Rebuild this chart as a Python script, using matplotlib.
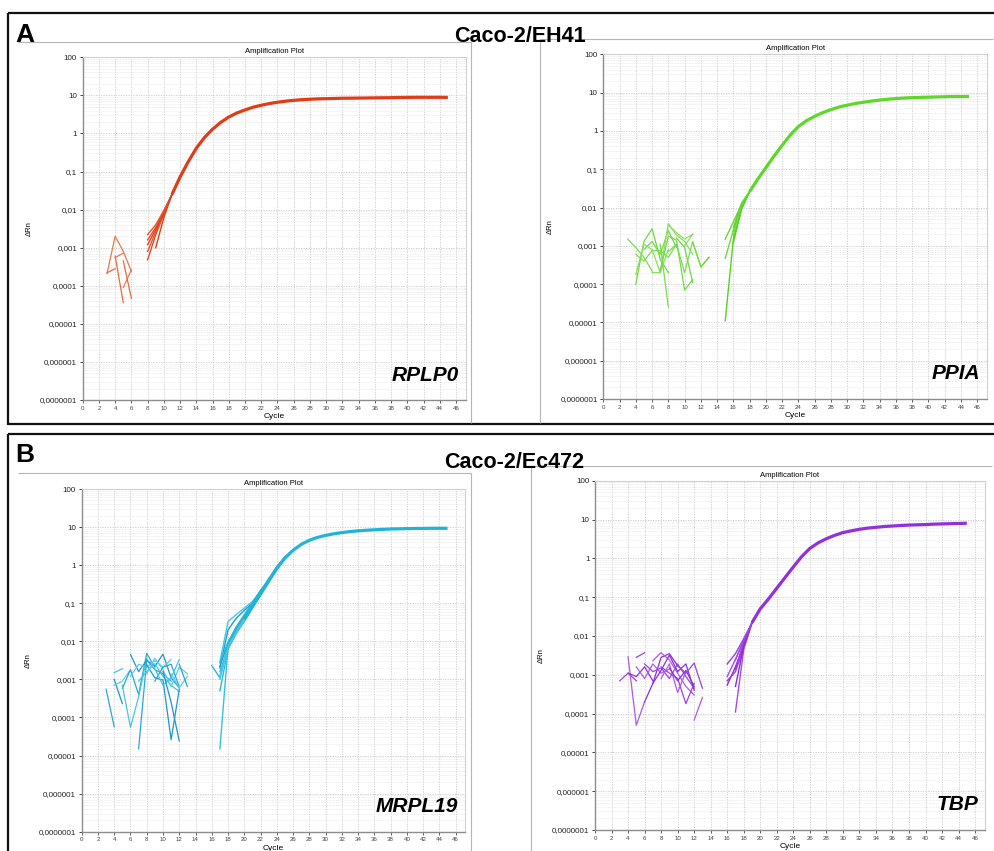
import numpy as np
import matplotlib
matplotlib.use("Agg")
import matplotlib.pyplot as plt
from matplotlib.lines import Line2D
from matplotlib.ticker import FixedLocator, LogLocator, NullFormatter, NullLocator

plt.rcParams["font.family"] = ["Liberation Sans", "DejaVu Sans"]

W, H = 995, 851

Y_TICKS = [1e-7, 1e-6, 1e-5, 1e-4, 1e-3, 1e-2, 1e-1, 1, 10, 100]
Y_TICK_LABELS = ["0,0000001", "0,000001", "0,00001", "0,0001", "0,001",
                 "0,01", "0,1", "1", "10", "100"]
X_TICKS = list(range(0, 47, 2))

# ---- RPLP0 (Caco-2/EH41) ----
rplp0_cycle0 = 11
rplp0_curve = [0.025, 0.072, 0.18, 0.41, 0.78, 1.29, 1.95, 2.7, 3.45, 4.15, 4.9,
               5.5, 6.1, 6.6, 7.05, 7.4, 7.7, 7.9, 8.1, 8.2, 8.3, 8.4, 8.45, 8.5,
               8.55, 8.6, 8.65, 8.7, 8.8, 8.85, 8.9, 8.9, 8.9, 8.9, 8.85]
rplp0_rep_start = [8, 8, 8, 8, 8, 9]
rplp0_rep_early = [
    [0.00048, 0.0022, 0.0075],
    [0.0008, 0.0026, 0.0080],
    [0.0012, 0.0030, 0.0085],
    [0.0016, 0.0034, 0.0090],
    [0.0022, 0.0040, 0.0095],
    [0.0010, 0.0062],
]
rplp0_noise_start = [3, 3, 4, 4, 5, 5]
rplp0_noise = [
    [0.00021, 0.0020, 0.0008, 0.00024],
    [0.00022, 0.00028],
    [0.00055, 0.00072],
    [0.0006, 3.6e-5],
    [9e-5, 0.00026],
    [0.00045, 4.7e-5],
]

# ---- PPIA (Caco-2/EH41) ----
ppia_cycle0 = 18
ppia_curve = [0.026, 0.055, 0.11, 0.22, 0.42, 0.78, 1.3, 1.85, 2.4, 3.0, 3.6,
              4.2, 4.7, 5.2, 5.6, 6.0, 6.4, 6.7, 7.0, 7.2, 7.4, 7.5, 7.6, 7.7,
              7.8, 7.9, 7.9, 7.9]
ppia_rep_start = [15, 15, 15, 16, 16, 16, 16]
ppia_rep_early = [
    [0.0015, 0.0042, 0.012],
    [0.00047, 0.0026, 0.011],
    [1.1e-5, 0.0015, 0.009],
    [0.0024, 0.012],
    [0.0019, 0.011],
    [0.0012, 0.009],
    [0.0030, 0.013],
]
ppia_noise_start = [3, 4, 4, 4, 5, 6, 7, 7, 8, 8, 9, 10, 11, 12]
ppia_noise = [
    [0.0015, 0.0009, 0.0005, 0.00022],
    [0.0001, 0.0013, 0.0028, 0.00045, 0.0002],
    [0.00018, 0.0011, 0.0008, 0.0002, 0.0008],
    [0.0006, 0.0004, 0.00075, 0.00075, 0.0005, 0.0011],
    [0.0008, 0.0013, 0.0006, 0.0025, 0.0009],
    [0.0002, 0.0002, 0.0038, 0.0019, 0.0013, 0.0006],
    [0.0011, 2.5e-5],
    [0.00022, 0.0018, 0.0014, 7e-5, 0.00013],
    [0.0035, 0.0022, 0.0015, 0.002],
    [0.0007, 0.0011, 0.0002, 0.0013, 0.00028, 0.0005],
    [0.0016, 0.0009, 0.00011],
    [0.001, 0.002],
    [0.0012, 0.0003],
    [0.00028, 0.0005],
]

# ---- MRPL19 (Caco-2/Ec472) ----
mrpl19_cycle0 = 20
mrpl19_curve = [0.038, 0.085, 0.18, 0.39, 0.83, 1.55, 2.45, 3.5, 4.5, 5.35,
                6.05, 6.65, 7.15, 7.6, 7.95, 8.25, 8.5, 8.7, 8.9, 9.0, 9.1,
                9.2, 9.2, 9.3, 9.3, 9.3]
mrpl19_rep_start = [16, 17, 17, 17, 17, 17, 17, 17, 17, 17]
mrpl19_rep_early = [
    [0.0023, 0.0011, 0.0075, 0.019],
    [0.0029, 0.033, 0.05, 0.075, 0.11, 0.2, 0.4, 0.84],
    [0.0020, 0.020, 0.040, 0.065, 0.10, 0.19],
    [1.5e-5, 0.0068, 0.017],
    [0.0005, 0.0062, 0.016, 0.034, 0.075, 0.16, 0.35, 0.76],
    [0.0012, 0.0085, 0.02],
    [0.0022, 0.009, 0.022, 0.046, 0.1, 0.21, 0.44, 0.9, 1.65],
    [0.0016, 0.0068, 0.016, 0.033, 0.074, 0.16, 0.35, 0.75, 1.45],
    [0.0027, 0.0095, 0.024, 0.05, 0.105, 0.22],
    [0.0010, 0.0072, 0.017, 0.036, 0.08, 0.17, 0.37, 0.8],
]
mrpl19_noise_start = [3, 4, 4, 4, 5, 5, 6, 6, 7, 7, 8, 8, 9, 9, 10, 11, 12]
mrpl19_noise = [
    [0.00055, 5.7e-5],
    [0.0015, 0.0019],
    [0.001, 0.00023],
    [0.0007, 0.0009, 0.0018],
    [0.00058, 0.0018, 0.0004, 0.0048, 0.0021],
    [0.0007, 5.5e-5, 0.00035, 0.0035],
    [0.0045, 0.0016, 0.0032, 0.0022, 0.0046, 0.0011, 0.0006],
    [0.0012, 0.0025, 0.0021, 0.0031, 0.0021, 0.0033],
    [1.5e-5, 0.0033, 0.0018, 0.0014, 0.0009],
    [0.0009, 0.0016, 0.0026, 0.0012, 0.0007, 0.00048],
    [0.0024, 0.0011, 0.00096, 2.6e-5, 0.00055],
    [0.0014, 0.0036, 0.0018, 0.00065, 0.0021, 0.0014],
    [0.0009, 0.0021, 0.0025, 0.00064],
    [0.0019, 0.0007, 0.0011, 0.0033],
    [0.0016, 0.00025, 2.4e-5],
    [0.0014, 0.0006, 0.0012],
    [0.0025, 0.00065],
]

# ---- TBP (Caco-2/Ec472) ----
tbp_cycle0 = 19
tbp_curve = [0.022, 0.05, 0.09, 0.17, 0.32, 0.6, 1.1, 1.8, 2.5, 3.2, 3.9, 4.6,
             5.1, 5.6, 6.0, 6.3, 6.6, 6.8, 7.0, 7.2, 7.3, 7.4, 7.6, 7.7, 7.8,
             7.9, 8.0]
tbp_rep_start = [16, 16, 16, 16, 17, 17, 17, 17]
tbp_rep_early = [
    [0.0019, 0.0035, 0.0085],
    [0.0009, 0.0025, 0.0072],
    [0.00054, 0.0016, 0.0058],
    [0.0007, 0.0012, 0.005],
    [0.00011, 0.0045],
    [0.0005, 0.0055],
    [0.0014, 0.0068],
    [0.0024, 0.0080],
]
tbp_noise_start = [3, 4, 4, 5, 5, 6, 6, 7, 7, 8, 8, 9, 10, 12]
tbp_noise = [
    [0.0007, 0.0011, 0.0007],
    [0.0029, 5e-5, 0.0002],
    [0.0011, 0.0009, 0.0016, 0.0007],
    [0.0028, 0.0037],
    [0.0016, 0.0008, 0.0019, 0.0011, 0.0014],
    [0.0002, 0.0006, 0.0028, 0.0035, 0.0017],
    [0.0019, 0.0012, 0.0015, 0.0008, 0.0019, 0.0009, 0.00045],
    [0.0023, 0.0037, 0.0024, 0.0011, 0.0005, 0.0003],
    [0.0006, 0.0013, 0.0032, 0.0012, 0.0019, 0.0004],
    [0.0016, 0.0011, 0.0008, 0.00018, 0.0006],
    [0.0008, 0.0019, 0.00035, 0.0012],
    [0.0015, 0.0007, 0.0013, 0.0005],
    [0.0017, 0.0011, 0.0020, 0.00045],
    [6.8e-5, 0.00026],
]


def px_axes(fig, left, top, right, bottom):
    return fig.add_axes([left / W, 1 - bottom / H, (right - left) / W, (bottom - top) / H])


def px_line(fig, x0, y0, x1, y1, color, lw):
    fig.add_artist(Line2D([x0 / W, x1 / W], [1 - y0 / H, 1 - y1 / H],
                          transform=fig.transFigure, color=color, lw=lw,
                          solid_capstyle="butt"))


def style_axes(ax):
    ax.set_yscale("log")
    ax.set_xlim(0, 47.2)
    ax.set_ylim(1e-7, 100)
    ax.yaxis.set_major_locator(FixedLocator(Y_TICKS))
    ax.set_yticklabels(Y_TICK_LABELS)
    ax.yaxis.set_minor_locator(LogLocator(base=10, subs=np.arange(2, 10), numticks=100))
    ax.yaxis.set_minor_formatter(NullFormatter())
    ax.xaxis.set_major_locator(FixedLocator(X_TICKS))
    ax.xaxis.set_minor_locator(NullLocator())
    ax.grid(which="major", color="#cbcbcb", lw=0.6, ls=(0, (1.5, 1.5)))
    ax.grid(which="minor", axis="y", color="#e1e1e1", lw=0.5, ls=(0, (1, 1.2)))
    for s in ("left", "bottom"):
        ax.spines[s].set_color("#8c8c8c")
        ax.spines[s].set_linewidth(1.0)
    for s in ("top", "right"):
        ax.spines[s].set_color("#d0d0d0")
        ax.spines[s].set_linewidth(0.8)
    ax.tick_params(which="major", direction="out", length=2.5, width=0.6,
                   color="#8c8c8c", pad=1.5)
    ax.tick_params(which="minor", length=0)
    ax.tick_params(axis="y", labelsize=5.8, colors="#222222")
    ax.tick_params(axis="x", labelsize=4.4, colors="#444444")
    ax.set_title("Amplification Plot", fontsize=5.5, pad=3)
    ax.set_xlabel("Cycle", fontsize=6, labelpad=2)
    ax.set_ylabel("\u0394Rn", fontsize=5.5, labelpad=5)


def draw_gene(ax, cycle0, curve, rep_start, rep_early, noise_start, noise,
              main_color, rep_colors, noise_colors, label):
    # baseline noise before amplification
    for i, (s, vals) in enumerate(zip(noise_start, noise)):
        xs = np.arange(s, s + len(vals))
        ax.plot(xs, vals, color=noise_colors[i % len(noise_colors)], lw=0.9)
    # individual replicates until they merge into the common curve
    for i, (s, vals) in enumerate(zip(rep_start, rep_early)):
        xs = list(range(s, s + len(vals)))
        ys = list(vals)
        nxt = s + len(vals)
        xs.append(nxt)
        ys.append(curve[nxt - cycle0])
        ax.plot(xs, ys, color=rep_colors[i % len(rep_colors)], lw=1.0)
    xs = np.arange(cycle0, cycle0 + len(curve))
    ax.plot(xs, curve, color=main_color, lw=2.3, solid_capstyle="butt",
            solid_joinstyle="round")
    ax.text(0.982, 0.045, label, transform=ax.transAxes, ha="right",
            va="bottom", fontsize=15, fontweight="bold", fontstyle="italic")


fig = plt.figure(figsize=(W / 100, H / 100), dpi=100)

# panel frames
black = "#111111"
px_line(fig, 8, 13, 995, 13, black, 1.6)
px_line(fig, 8, 13, 8, 425, black, 1.6)
px_line(fig, 8, 424, 995, 424, black, 1.6)
px_line(fig, 8, 434, 995, 434, black, 1.6)
px_line(fig, 8, 434, 8, 851, black, 1.6)

gray = "#b5b5b5"
px_line(fig, 18, 42, 471, 42, gray, 0.8)
px_line(fig, 471, 42, 471, 423, gray, 0.8)
px_line(fig, 540, 39, 993, 39, gray, 0.8)
px_line(fig, 540, 39, 540, 423, gray, 0.8)
px_line(fig, 18, 473, 471, 473, gray, 0.8)
px_line(fig, 471, 473, 471, 851, gray, 0.8)
px_line(fig, 531, 466, 992, 466, gray, 0.8)
px_line(fig, 531, 466, 531, 851, gray, 0.8)

fig.text(15 / W, 1 - 41.5 / H, "A", fontsize=19, fontweight="bold", va="baseline")
fig.text(15 / W, 1 - 461.5 / H, "B", fontsize=19, fontweight="bold", va="baseline")
fig.text(520 / W, 1 - 42.5 / H, "Caco-2/EH41", fontsize=15.5, fontweight="bold",
         ha="center", va="baseline")
fig.text(514 / W, 1 - 468 / H, "Caco-2/Ec472", fontsize=15.5, fontweight="bold",
         ha="center", va="baseline")

ax1 = px_axes(fig, 82.7, 57.3, 465.7, 400)
style_axes(ax1)
draw_gene(ax1, rplp0_cycle0, rplp0_curve, rplp0_rep_start, rplp0_rep_early,
          rplp0_noise_start, rplp0_noise, "#e03c1a",
          ["#e04a22", "#e4552c", "#dd3e1a"], ["#e8784f", "#e46a40"], "RPLP0")

ax2 = px_axes(fig, 603.3, 54.3, 987.0, 399)
style_axes(ax2)
draw_gene(ax2, ppia_cycle0, ppia_curve, ppia_rep_start, ppia_rep_early,
          ppia_noise_start, ppia_noise, "#5ed62a",
          ["#62d830", "#6fdb3e", "#58cf28"], ["#7bdc4e", "#6fd843", "#88e05c"], "PPIA")

ax3 = px_axes(fig, 81.7, 489, 465.4, 831.7)
style_axes(ax3)
draw_gene(ax3, mrpl19_cycle0, mrpl19_curve, mrpl19_rep_start, mrpl19_rep_early,
          mrpl19_noise_start, mrpl19_noise, "#22b4d8",
          ["#2ab8dc", "#45c9e4", "#1f9ccf", "#36c0e0"],
          ["#2aa6d6", "#45c6e2", "#1f95cc", "#5bcfe6"], "MRPL19")

ax4 = px_axes(fig, 595, 480.7, 985, 830)
style_axes(ax4)
draw_gene(ax4, tbp_cycle0, tbp_curve, tbp_rep_start, tbp_rep_early,
          tbp_noise_start, tbp_noise, "#9230dc",
          ["#9a3ce0", "#a54ae4", "#8a2ad4"], ["#9d42e0", "#ad5ae6", "#8c2fd6"], "TBP")

fig.savefig("out.png", dpi=100)
